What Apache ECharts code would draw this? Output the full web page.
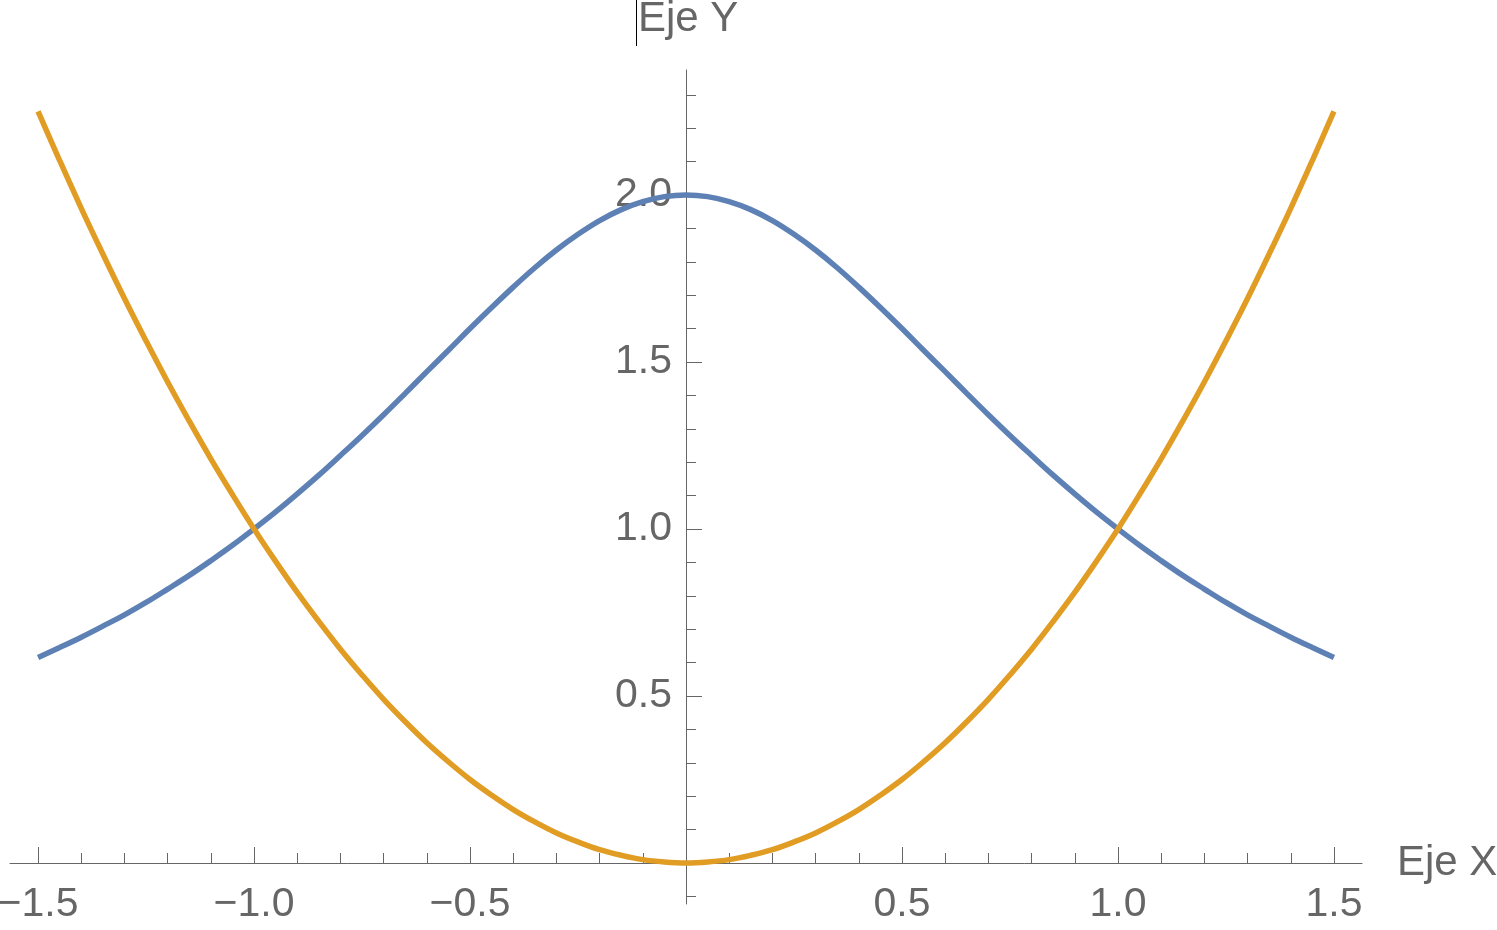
<!DOCTYPE html>
<html>
<head>
<meta charset="utf-8">
<script src="https://cdn.jsdelivr.net/npm/echarts@6/dist/echarts.min.js"></script>
<style>
  html, body { margin: 0; padding: 0; background: #fff; }
  #main { width: 1497px; height: 930px; }
</style>
</head>
<body>
<div id="main"></div>
<script>
// x positions
var xs = [-1.5, -1.45, -1.4, -1.35, -1.3, -1.25, -1.2, -1.15, -1.1, -1.05, -1.0,
          -0.95, -0.9, -0.85, -0.8, -0.75, -0.7, -0.65, -0.6, -0.55, -0.5,
          -0.45, -0.4, -0.35, -0.3, -0.25, -0.2, -0.15, -0.1, -0.05, 0,
          0.05, 0.1, 0.15, 0.2, 0.25, 0.3, 0.35, 0.4, 0.45, 0.5,
          0.55, 0.6, 0.65, 0.7, 0.75, 0.8, 0.85, 0.9, 0.95, 1.0,
          1.05, 1.1, 1.15, 1.2, 1.25, 1.3, 1.35, 1.4, 1.45, 1.5];
// blue bell curve
var blueY = [0.615, 0.645, 0.676, 0.709, 0.743, 0.78, 0.82, 0.861, 0.905, 0.951, 1.0,
             1.051, 1.105, 1.161, 1.22, 1.28, 1.342, 1.406, 1.471, 1.535, 1.6,
             1.663, 1.724, 1.782, 1.835, 1.882, 1.923, 1.956, 1.98, 1.995, 2.0,
             1.995, 1.98, 1.956, 1.923, 1.882, 1.835, 1.782, 1.724, 1.663, 1.6,
             1.535, 1.471, 1.406, 1.342, 1.28, 1.22, 1.161, 1.105, 1.051, 1.0,
             0.951, 0.905, 0.861, 0.82, 0.78, 0.743, 0.709, 0.676, 0.645, 0.615];
// orange parabola
var orangeY = [2.25, 2.103, 1.96, 1.823, 1.69, 1.563, 1.44, 1.323, 1.21, 1.103, 1.0,
               0.903, 0.81, 0.723, 0.64, 0.563, 0.49, 0.423, 0.36, 0.303, 0.25,
               0.203, 0.16, 0.123, 0.09, 0.063, 0.04, 0.023, 0.01, 0.003, 0,
               0.003, 0.01, 0.023, 0.04, 0.063, 0.09, 0.123, 0.16, 0.203, 0.25,
               0.303, 0.36, 0.423, 0.49, 0.563, 0.64, 0.723, 0.81, 0.903, 1.0,
               1.103, 1.21, 1.323, 1.44, 1.563, 1.69, 1.823, 1.96, 2.103, 2.25];
var xTicks = [-1.5, 1.5];   // labelled x range, step 0.5
var yTicks = [0, 2.0];      // labelled y range, step 0.5
var xName = 'Eje X';
var yName = 'Eje Y';

var FONT = "'Liberation Sans', Arial, sans-serif";
var GREY = '#666666';

function pair(ys) {
    return xs.map(function (x, i) { return [x, ys[i]]; });
}
function fmt(v) {
    if (Math.abs(v) < 1e-9) return '';
    return v.toFixed(1).replace('-', '\u2212');
}

var myChart = echarts.init(document.getElementById('main'));

var option = {
    animation: false,
    backgroundColor: '#ffffff',
    grid: [
        { left: 10, right: 135, top: 70, bottom: 26, outerBoundsMode: 'none' },          // axis lines + curves
        { left: 38, right: 163, top: 70, bottom: 67, outerBoundsMode: 'none' },          // x ticks and labels
        { left: 686, width: 100, top: 94.8, bottom: 33.6, outerBoundsMode: 'none' },     // y minor ticks
        { left: 686, width: 100, top: 195, bottom: 67, outerBoundsMode: 'none' }         // y major ticks and labels
    ],
    xAxis: [
        {
            type: 'value', gridIndex: 0, min: -1.565, max: 1.565,
            axisLine: { show: true, onZero: true, lineStyle: { color: GREY, width: 1 } },
            axisTick: { show: false }, axisLabel: { show: false }, splitLine: { show: false }
        },
        {
            type: 'value', gridIndex: 1, min: xTicks[0], max: xTicks[1], interval: 0.5,
            position: 'bottom',
            axisLine: { show: false },
            axisTick: { show: true, inside: true, length: 16, lineStyle: { color: GREY, width: 1 } },
            minorTick: { show: true, splitNumber: 5, length: 10, lineStyle: { color: GREY, width: 1 } },
            axisLabel: {
                show: true, margin: 21, color: GREY, fontSize: 41, fontFamily: FONT,
                showMinLabel: true, showMaxLabel: true, formatter: fmt
            },
            splitLine: { show: false }
        },
        { type: 'value', gridIndex: 2, show: false, min: 0, max: 1 },
        { type: 'value', gridIndex: 3, show: false, min: 0, max: 1 }
    ],
    yAxis: [
        {
            type: 'value', gridIndex: 0, min: -0.1228, max: 2.374,
            axisLine: { show: true, onZero: true, lineStyle: { color: GREY, width: 1 } },
            axisTick: { show: false }, axisLabel: { show: false }, splitLine: { show: false }
        },
        { type: 'value', gridIndex: 1, show: false, min: 0, max: 1 },
        {
            type: 'value', gridIndex: 2, min: -0.1, max: 2.3, interval: 0.1,
            position: 'left',
            axisLine: { show: false },
            axisTick: { show: true, inside: true, length: 10, lineStyle: { color: GREY, width: 1 } },
            axisLabel: { show: false }, splitLine: { show: false }
        },
        {
            type: 'value', gridIndex: 3, min: yTicks[0], max: yTicks[1], interval: 0.5,
            position: 'left',
            axisLine: { show: false },
            axisTick: { show: true, inside: true, length: 16, lineStyle: { color: GREY, width: 1 } },
            axisLabel: {
                show: true, margin: 14, color: GREY, fontSize: 41, fontFamily: FONT,
                showMinLabel: true, showMaxLabel: true, formatter: fmt
            },
            splitLine: { show: false }
        }
    ],
    graphic: [
        {
            type: 'text', left: 638, top: -2,
            style: { text: yName, fill: GREY, font: '42px ' + FONT, textVerticalAlign: 'middle' }
        },
        {
            type: 'text', left: 1397, top: 842,
            style: { text: xName, fill: GREY, font: '42px ' + FONT, textVerticalAlign: 'middle' }
        },
        {
            type: 'line', shape: { x1: 636.5, y1: 0, x2: 636.5, y2: 46 },
            style: { stroke: '#000000', lineWidth: 1 }
        }
    ],
    series: [
        {
            name: 'azul', type: 'line', xAxisIndex: 0, yAxisIndex: 0,
            data: pair(blueY), smooth: 0.4, showSymbol: false,
            lineStyle: { color: '#5E81B5', width: 5.5 }, itemStyle: { color: '#5E81B5' }
        },
        {
            name: 'naranja', type: 'line', xAxisIndex: 0, yAxisIndex: 0,
            data: pair(orangeY), smooth: 0.4, showSymbol: false,
            lineStyle: { color: '#E19C24', width: 5.5 }, itemStyle: { color: '#E19C24' }
        }
    ]
};

myChart.setOption(option);
</script>
</body>
</html>
